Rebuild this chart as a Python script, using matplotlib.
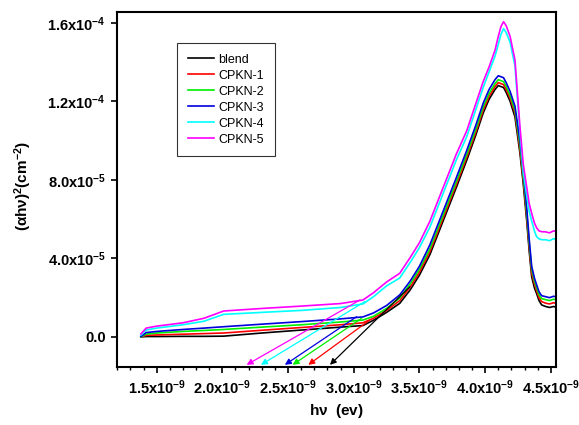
import numpy as np
import matplotlib
matplotlib.use("Agg")
import matplotlib.pyplot as plt
from matplotlib.ticker import FixedLocator, MultipleLocator

plt.rcParams['font.family'] = ['Liberation Sans', 'DejaVu Sans']
plt.rcParams['mathtext.fontset'] = 'custom'
plt.rcParams['mathtext.rm'] = 'Liberation Sans'
plt.rcParams['mathtext.bf'] = 'Liberation Sans:bold'
plt.rcParams['mathtext.it'] = 'Liberation Sans:italic'

# --- data (x in 1e-9, y in 1e-5) ---
hv = [1.38, 1.42, 1.50, 1.70, 1.86, 2.01, 2.30, 2.60, 2.90, 3.07, 3.15, 3.25, 3.35, 3.43,
      3.50, 3.58, 3.68, 3.78, 3.86, 3.93, 3.985, 4.03, 4.075, 4.10, 4.12, 4.14, 4.16, 4.19,
      4.227, 4.265, 4.29, 4.316, 4.335, 4.354, 4.375, 4.392, 4.41, 4.43, 4.46, 4.49, 4.52, 4.537]

blend = [0.00, 0.02, 0.02, 0.03, 0.03, 0.04, 0.20, 0.35, 0.50, 0.58, 0.85, 1.25, 1.71, 2.40,
         3.15, 4.20, 5.90, 7.60, 9.00, 10.3, 11.4, 12.1, 12.6, 12.8, 12.75, 12.7, 12.45, 12.0,
         11.2, 9.35, 7.8, 5.95, 4.4, 3.07, 2.5, 2.2, 1.85, 1.63, 1.55, 1.5, 1.55, 1.52]
cpkn1 = [0.00, 0.08, 0.10, 0.14, 0.17, 0.20, 0.34, 0.48, 0.62, 0.72, 0.95, 1.35, 1.85, 2.55,
         3.30, 4.35, 6.05, 7.75, 9.15, 10.45, 11.55, 12.25, 12.75, 12.95, 12.9, 12.85, 12.6, 12.15,
         11.4, 9.55, 8.0, 6.15, 4.6, 3.25, 2.7, 2.35, 2.0, 1.8, 1.72, 1.68, 1.74, 1.72]
cpkn2 = [0.00, 0.14, 0.20, 0.28, 0.33, 0.38, 0.50, 0.62, 0.76, 0.86, 1.05, 1.45, 1.98, 2.70,
         3.45, 4.50, 6.20, 7.90, 9.30, 10.6, 11.7, 12.4, 12.9, 13.1, 13.05, 13.0, 12.75, 12.3,
         11.55, 9.75, 8.2, 6.35, 4.8, 3.45, 2.85, 2.5, 2.15, 1.95, 1.9, 1.85, 1.92, 1.9]
cpkn3 = [0.02, 0.22, 0.28, 0.38, 0.45, 0.52, 0.65, 0.78, 0.92, 1.02, 1.22, 1.60, 2.14, 2.85,
         3.60, 4.70, 6.40, 8.10, 9.50, 10.8, 11.9, 12.6, 13.1, 13.3, 13.25, 13.2, 12.95, 12.5,
         11.75, 10.0, 8.45, 6.6, 5.0, 3.6, 3.0, 2.65, 2.3, 2.1, 2.05, 2.0, 2.07, 2.05]
cpkn4 = [0.10, 0.35, 0.45, 0.62, 0.80, 1.15, 1.25, 1.35, 1.50, 1.68, 2.05, 2.60, 3.00, 3.80,
         4.55, 5.60, 7.30, 9.00, 10.2, 11.6, 12.7, 13.5, 14.3, 14.9, 15.4, 15.7, 15.5, 15.0,
         13.8, 10.4, 8.4, 7.2, 6.4, 5.9, 5.4, 5.1, 5.0, 4.95, 4.95, 4.9, 5.0, 4.98]
cpkn5 = [0.15, 0.45, 0.55, 0.72, 0.95, 1.32, 1.45, 1.57, 1.70, 1.88, 2.25, 2.80, 3.24, 4.05,
         4.80, 5.90, 7.60, 9.30, 10.5, 11.9, 13.0, 13.75, 14.6, 15.3, 15.8, 16.05, 15.85, 15.3,
         14.1, 10.7, 8.8, 7.65, 6.8, 6.3, 5.8, 5.55, 5.4, 5.36, 5.35, 5.3, 5.4, 5.38]

names = ['blend', 'CPKN-1', 'CPKN-2', 'CPKN-3', 'CPKN-4', 'CPKN-5']
colors = ['black', 'red', '#00ee00', '#0000dd', 'cyan', 'magenta']
series = [blend, cpkn1, cpkn2, cpkn3, cpkn4, cpkn5]

# tangent lines: start on curve (x, y) and x-intercept arrow tip
tan_start_x = [3.428, 3.123, 3.06, 3.022, 3.085, 3.047]
tan_start_y = [2.56, 0.865, 0.95, 1.03, 1.80, 1.88]
tan_tip_x = [2.819, 2.654, 2.535, 2.476, 2.294, 2.185]
tan_tip_y = -1.42

xs, ys = 1e-9, 1e-5

fig = plt.figure(figsize=(5.79, 4.25), dpi=100)
ax = fig.add_axes([0.202, 0.1365, 0.758, 0.835])

x = np.array(hv) * xs
for name, c, y in zip(names, colors, series):
    ax.plot(x, np.array(y) * ys, color=c, lw=1.2, label=name)

for c, sx, sy, tx in zip(colors, tan_start_x, tan_start_y, tan_tip_x):
    ax.annotate('', xy=(tx * xs, tan_tip_y * ys), xytext=(sx * xs, sy * ys),
                arrowprops=dict(arrowstyle='-|>', color=c, lw=0.9,
                                mutation_scale=9, shrinkA=0, shrinkB=0))

ax.set_xlim(1.198e-9, 4.538e-9)
ax.set_ylim(-1.53e-5, 1.654e-4)

xt = [1.5, 2.0, 2.5, 3.0, 3.5, 4.0, 4.5]
ax.xaxis.set_major_locator(FixedLocator(np.array(xt) * xs))
ax.set_xticklabels([r'%.1fx10$^{\mathbf{-9}}$' % v for v in xt])
ax.xaxis.set_minor_locator(MultipleLocator(0.1e-9))

yt = [0, 4e-5, 8e-5, 1.2e-4, 1.6e-4]
ylab = ['0.0', r'4.0x10$^{\mathbf{-5}}$', r'8.0x10$^{\mathbf{-5}}$',
        r'1.2x10$^{\mathbf{-4}}$', r'1.6x10$^{\mathbf{-4}}$']
ax.yaxis.set_major_locator(FixedLocator(yt))
ax.set_yticklabels(ylab)

for lab in ax.get_xticklabels() + ax.get_yticklabels():
    lab.set_fontweight('bold')
    lab.set_fontsize(10.5)

ax.tick_params(which='major', direction='out', length=4, width=1.2, top=False, right=False)
ax.tick_params(axis='x', which='major', pad=4)
ax.tick_params(axis='y', which='major', pad=4)
ax.tick_params(which='minor', direction='out', length=2.5, width=1.0, top=False, right=False)
ax.tick_params(axis='y', which='minor', left=False)
for s in ax.spines.values():
    s.set_linewidth(1.5)

ax.set_xlabel(r'h$\mathbf{\nu}$  (ev)', fontsize=11, fontweight='bold')
ax.xaxis.set_label_coords(0.5, -0.1)
ax.set_ylabel(r'($\mathbf{\alpha}$h$\mathbf{\nu}$)$^{\mathbf{2}}$(cm$^{\mathbf{-2}}$)',
              fontsize=11, fontweight='bold')
ax.yaxis.set_label_coords(-0.188, 0.51)

leg = ax.legend(loc='upper left', bbox_to_anchor=(0.137, 0.913), borderaxespad=0,
                fontsize=9, frameon=True, fancybox=False, handlelength=2.1,
                labelspacing=0.32, handletextpad=0.35, borderpad=0.85)
leg.get_frame().set_edgecolor('black')
leg.get_frame().set_linewidth(0.8)

fig.savefig('out.png', dpi=100)
